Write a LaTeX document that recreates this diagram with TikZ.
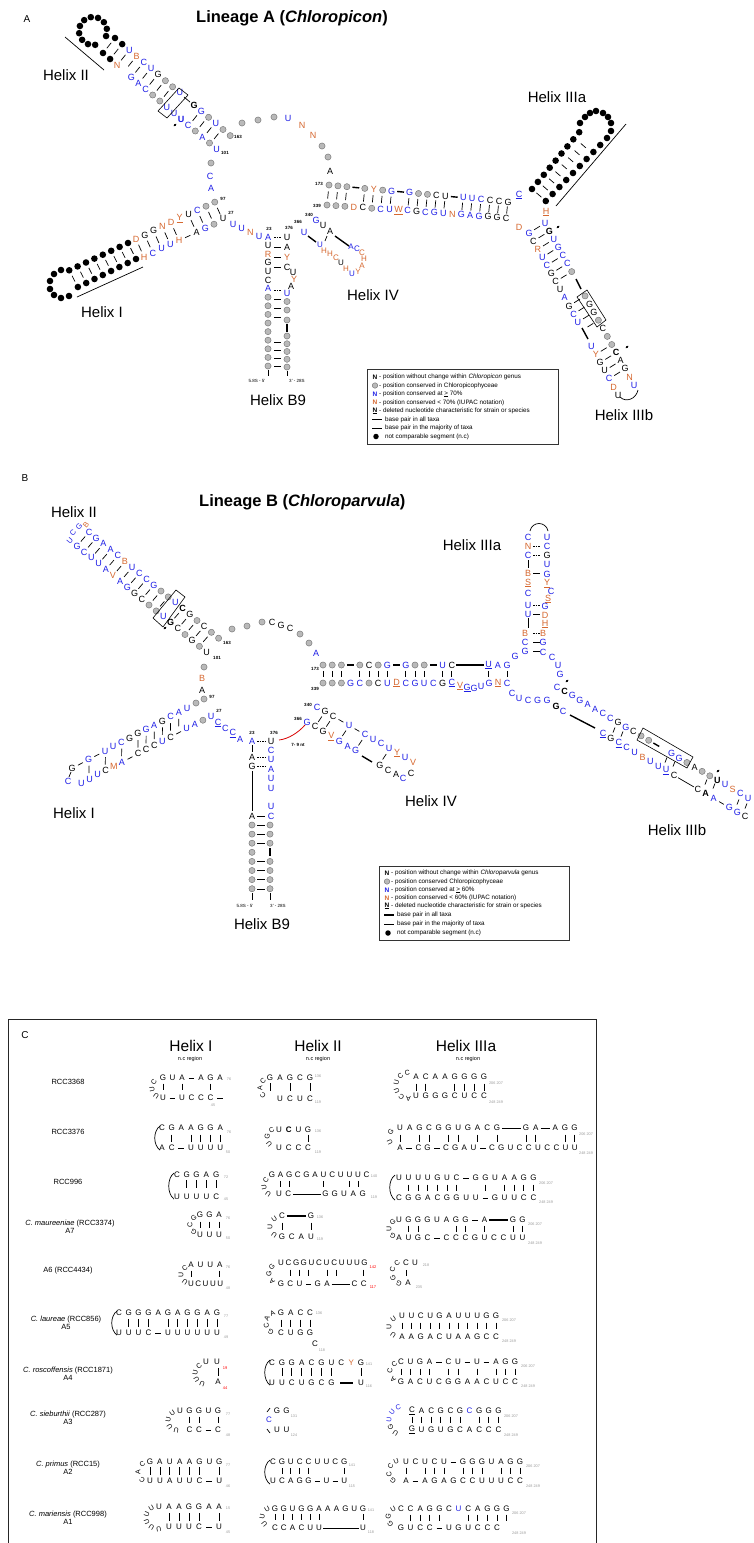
\documentclass[tikz,border=0pt]{standalone}
\usepackage{fontspec}
\setmainfont{Liberation Sans}
\definecolor{pblue}{RGB}{30,30,230}
\definecolor{porange}{RGB}{214,104,48}
\newcount\cidx
\newif\ifcor \newif\ifcun \newif\ifcbf
\def\cbaserot{0}
\def\cmode{0}
\def\cfont{\fontsize{9}{9}\selectfont}
\newcommand\cseq[5]{\def\cmode{0}\def\cx{#1}\def\cy{#2}\def\cdx{#3}\def\cdy{#4}\cstart#5\relax}
\newcommand\cloop[6]{\begingroup\def\cfont{\fontsize{7}{7}\selectfont}\def\cmode{1}\def\cx{#1}\def\cy{#2}\def\crad{#3}\def\ca{#4}\def\cda{#5}\cstart#6\relax\endgroup}
\def\cstart{\global\cidx=0 \corfalse\cunfalse\cbffalse\cparse}
\def\cparse#1{\ifx#1\relax\else\citem#1\expandafter\cparse\fi}
\def\citem#1{%
  \if#1!\cortrue\else
  \if#1+\cuntrue\else
  \if#1*\cbftrue\else
    \cput#1\global\advance\cidx by 1\relax
    \corfalse\cunfalse\cbffalse
  \fi\fi\fi}
\def\cpos{\ifnum\cmode=0
    \pgfmathsetmacro\px{\cx+\the\cidx*(\cdx)}%
    \pgfmathsetmacro\py{\cy+\the\cidx*(\cdy)}%
    \let\crot\cbaserot
  \else
    \pgfmathsetmacro\cang{\ca+\the\cidx*(\cda)}%
    \pgfmathsetmacro\px{\cx+\crad*cos(\cang)}%
    \pgfmathsetmacro\py{\cy+\crad*sin(\cang)}%
    \pgfmathsetmacro\crot{-\cang-90}%
  \fi}
\def\cbond#1#2{%
  \pgfmathsetmacro\qa{\px-#1*(\cdx)}\pgfmathsetmacro\qb{\py-#1*(\cdy)}%
  \pgfmathsetmacro\qc{\px+#1*(\cdx)}\pgfmathsetmacro\qd{\py+#1*(\cdy)}%
  \draw[#2bond] (\qa,\qb) -- (\qc,\qd);}
\def\cperp{%
  \pgfmathsetmacro\qa{\px+0.36*(\cdy)}\pgfmathsetmacro\qb{\py-0.36*(\cdx)}%
  \pgfmathsetmacro\qc{\px-0.36*(\cdy)}\pgfmathsetmacro\qd{\py+0.36*(\cdx)}%
  \draw[thinbond] (\qa,\qb) -- (\qc,\qd);}
\def\cfmt#1{\ifcbf\bfseries\fi\ifcun\underline{#1}\else#1\fi}
\def\cletter#1{%
  \ifcor\def\ccol{porange}\else\ifnum`#1>96 \def\ccol{pblue}\else\def\ccol{black}\fi\fi
  \node[nt,text=\ccol,rotate=\crot] at (\px,\py) {\cfmt{\uppercase{#1}}};}
\def\cput#1{\cpos
  \if#1.\else
  \if#1-\cbond{0.3}{thin}\else
  \if#1=\cbond{0.38}{thick}\else
  \if#1_\cbond{0.5}{thin}\else
  \if#1:\cbond{0.5}{thick}\else
  \if#1|\cperp\else
  \if#1o\node[gc] at (\px,\py) {};\else
  \if#1@\node[bd] at (\px,\py) {};\else
  \cletter#1\fi\fi\fi\fi\fi\fi\fi\fi}
\newcommand\pbars[7]{\foreach \k in {#7}{\draw[thinbond] ({#1+\k*(#5)+0.32*((#3)-(#1))},{#2+\k*(#6)+0.32*((#4)-(#2))}) -- ({#1+\k*(#5)+0.68*((#3)-(#1))},{#2+\k*(#6)+0.68*((#4)-(#2))});}}
\newcommand\cst[8]{\cseq{#1}{#2}{#5}{0}{#6}\cseq{#1}{#3}{#5}{0}{#7}\cseq{#1}{#4}{#5}{0}{#8}}
\newcommand\paren[3]{\draw[thinbond] (#1+4,#2) .. controls (#1-3,#2+5) and (#1-3,#3-5) .. (#1+4,#3);}
\newcommand\pmk[2]{\fill[rotate around={40:(#1,#2)}] (#1,#2) ellipse (1.8pt and 1.1pt);}
\begin{document}
\begin{tikzpicture}[x=1pt,y=-1pt,
  nt/.style={inner sep=0pt,font=\cfont},
  gc/.style={circle,inner sep=0pt,minimum size=6.2pt,fill=gray!55,draw=gray!85!black,line width=0.4pt},
  bd/.style={circle,inner sep=0pt,minimum size=6.6pt,fill=black},
  thinbond/.style={line width=0.7pt},
  thickbond/.style={line width=1.4pt},
  hlabel/.style={font=\fontsize{15}{16}\selectfont,inner sep=0pt},
  ttl/.style={font=\fontsize{16.5}{18}\selectfont\bfseries,inner sep=0pt,anchor=west},
  num/.style={font=\fontsize{4.5}{5}\selectfont\bfseries,inner sep=0pt},
  numg/.style={font=\fontsize{3.8}{4}\selectfont,text=gray!80,inner sep=0pt},
  numr/.style={font=\fontsize{4}{4}\selectfont,text=red,inner sep=0pt},
  smallt/.style={font=\fontsize{4.5}{5}\selectfont,inner sep=0pt},
  legtxt/.style={font=\fontsize{6.3}{7}\selectfont,anchor=west,inner sep=0pt},
  legsym/.style={font=\fontsize{6.5}{7}\selectfont\bfseries,inner sep=0pt},
  legbox/.style={draw=black!80,line width=0.9pt},
  plabel/.style={font=\fontsize{10}{10}\selectfont,inner sep=0pt},
  chead/.style={font=\fontsize{15.5}{16}\selectfont,inner sep=0pt},
  rowl/.style={font=\fontsize{7.5}{8}\selectfont,inner sep=0pt,align=center}]
\useasboundingbox (0,0) rectangle (753,1543);
\fill[white] (0,0) rectangle (753,1543);

%%%%%%%%%%%%%%%% PANEL A
\node[plabel] (pa) at (27,19) {A};
\node[ttl] (ta) at (196,18) {Lineage A (\textit{Chloropicon})};
% Helix II
\cloop{93}{31}{14}{21}{-30}{@@@@@@@@@@@}
\cseq{115}{38}{7.2}{6.1}{@@u!BcuGoou.*Ggouoo}
\cseq{103}{53}{7.1}{6.0}{@@!N.gacoouu*ucoaou}
\pbars{115}{38}{103}{53}{7.15}{6.05}{0,1,2,3,4,5,6,7,8,12,13,14,15}
\draw[line width=0.6pt] (158,111) -- (167,118) -- (188,95) -- (179,88) -- cycle;
\draw[thinbond] (184,97) -- (190,102);
\pmk{175}{125}
\draw[line width=0.7pt] (65,37) -- (104,70);
\node[hlabel] (h2a) at (66,75) {Helix II};
\node[num] at (238,137) {163};
\node[num] at (225,153) {101};
% junction loop
\cseq{242}{123}{16}{-3}{ooo}
\cseq{288}{118}{0}{0}{u}
\cseq{302}{125}{11}{10}{!N!N}
\cseq{322}{146}{6}{11}{oo}
\cseq{330}{171}{0}{0}{A}
\cseq{211}{163}{0}{0}{o}
\cseq{210}{176}{0}{0}{c}
\cseq{211}{188}{0}{0}{a}
\node[num] at (223,199) {97};
% Helix I
\cseq{136}{239}{8.75}{-4.1}{!DGG!N!D+!YUcoo}
\cseq{128}{243}{-8.4}{3.9}{@@@@@@@@}
\foreach \p in {(61,270),(54,274),(50,281),(50,289),(54,295),(61,298),(69,296)} \node[bd] at \p {};
\cseq{136}{259}{-8.3}{4.0}{@@@@@@@@}
\cseq{144}{257}{8.75}{-4.1}{!Hcuu!H-Ago}
\pbars{136}{239}{144}{257}{8.75}{-4.1}{0,1,2,3,4,6,7,8,9}
\pbars{128}{243}{136}{259}{-8.35}{3.95}{0,...,7}
\cseq{223}{218}{0}{0}{U}
\node[num] at (231,213) {27};
\draw[line width=0.7pt] (77,297) -- (143,267);
\node[hlabel] (h1a) at (102,312) {Helix I};
% Helix B9
\cseq{233}{224}{8.7}{4}{uu!Nu}
\node[num] at (269,229) {23};
\cseq{268}{237}{0}{8.6}{aU!RGUCaooooooooo}
\cseq{287}{237}{0}{10}{UA!YC}
\node[num] at (289,228) {376};
\cseq{293}{272}{0}{0}{U}
\cseq{294}{279}{0}{0}{!Y}
\cseq{291}{286}{0}{0}{A}
\cseq{287}{293}{0}{8.5}{uoo}
\cseq{287}{320}{0}{0}{o}
\draw[thickbond] (287,324) -- (287,332);
\cseq{287}{336}{0}{7.75}{ooooo}
\foreach \yy in {247,257,267,299,308,317,342,350,358,366} \draw[thinbond] (274,\yy) -- (281,\yy);
\foreach \yy in {237,290} \draw[thinbond,dash pattern=on 1.5pt off 1pt] (274,\yy) -- (281,\yy);
\draw[thinbond] (268,370) -- (268,376);
\draw[thinbond] (287,371) -- (287,376);
\node[smallt] at (257,381) {5.8S - 5'};
\node[smallt] at (297,381) {3' - 28S};
\node[hlabel] (hb9a) at (278,400) {Helix B9};
% Helix IV
\node[num] at (309,215) {340};
\cseq{316}{220}{7}{5.5}{gUA}
\draw[thickbond] (335,236) -- (349,246);
\node[num] at (298,222) {366};
\cseq{304}{232}{0}{0}{u}
\draw[thickbond] (308,236) -- (316,242);
\draw[thinbond] (327,236) -- (325,241);
\def\cfont{\fontsize{8}{8}\selectfont}
\cseq{320}{245}{0}{0}{u}
\cseq{324}{251}{0}{0}{!H}
\cseq{330}{254}{0}{0}{!H}
\cseq{336}{258}{0}{0}{!C}
\cseq{341}{263}{0}{0}{U}
\cseq{346}{269}{0}{0}{!H}
\cseq{352}{274}{0}{0}{u}
\cseq{358}{272}{0}{0}{!Y}
\cseq{362}{266}{0}{0}{!A}
\cseq{364}{259}{0}{0}{!H}
\cseq{362}{253}{0}{0}{!C}
\cseq{357}{249}{0}{0}{c}
\cseq{351}{247}{0}{0}{a}
\def\cfont{\fontsize{9}{9}\selectfont}
\node[hlabel] (h4a) at (373,295) {Helix IV};
% long helix 173-339
\node[num] at (319,184) {173};
\cseq{329}{185}{8.95}{0.85}{ooo=o!Yog=gooCU=uucCCG}
\cseq{519}{195}{0}{0}{+c}
\node[num] at (317,206) {339};
\cseq{327}{205}{8.95}{0.65}{ooo!DCocu+!WcGcgu!NgagGGC}
\cseq{519}{227}{0}{0}{!D}
\pbars{329}{185}{327}{205}{8.95}{0.75}{0,1,2,4,5,6,7,9,10,11,12,13,15,16,17,18,19,20}
% Helix IIIa
\cseq{532}{189}{5.9}{-7.1}{@@@@@@@@@}
\foreach \p in {(580,123),(585,117),(590,113),(596,111),(603,113),(608,117),(611,123),(611,131)} \node[bd] at \p {};
\cseq{607}{138}{-6.8}{7.0}{@@@@@@@@@@}
\pbars{532}{189}{545.8}{201}{6.35}{-7.05}{0,...,7}
\draw[line width=0.7pt] (556,206) -- (626,124);
\cseq{546}{212}{0}{0}{+!H}
\node[hlabel] (h3aa) at (557,97) {Helix IIIa};
% Helix IIIb
\cseq{545}{223}{4.45}{8.1}{u*Gugcco..oGGoCoo*CAG!Nu}
\draw[thickbond] (576,279) -- (581,289);
\cseq{529}{233}{4.45}{8.1}{gC!RucGCUaGcu..u!YGUc!DU}
\draw[thickbond] (582,328) -- (588,339);
\pbars{545}{223}{529}{233}{4.45}{8.1}{0,1,2,3,4,5,6,9,10,11,12,15,16,17,18}
\draw[line width=0.6pt] (577,297) -- (587,290) -- (606,320) -- (597,327) -- cycle;
\draw[line width=0.7pt] (620,397) .. controls (626,403) and (636,399) .. (638,390);
\pmk{558}{227}
\pmk{627}{347}
\node[hlabel] (h3ba) at (624,415) {Helix IIIb};
% legend A
\draw[legbox] (367,369) rectangle (558,444);
\node[legsym] at (375,377) {N};
\node[legtxt] at (379,377) {- position without change within \textit{Chloropicon} genus};
\node[gc,minimum size=5.5pt] at (375,385.5) {};
\node[legtxt] at (379,385.5) {- position conserved in Chloropicophyceae};
\node[legsym,text=pblue] at (375,394) {N};
\node[legtxt] at (379,394) {- position conserved at \underline{>} 70\%};
\node[legsym,text=porange] at (375,402.5) {N};
\node[legtxt] at (379,402.5) {- position conserved < 70\% (IUPAC notation)};
\node[legsym] at (375,411) {\underline{N}};
\node[legtxt] at (379,411) {- deleted nucleotide characteristic for strain or species};
\draw[thickbond] (372,419.5) -- (382,419.5);
\node[legtxt] at (385,419.5) {base pair in all taxa};
\draw[line width=0.8pt] (372,428) -- (382,428);
\node[legtxt] at (385,428) {base pair in the majority of taxa};
\node[bd,minimum size=5.5pt] at (376,436.5) {};
\node[legtxt] at (385,436.5) {not comparable segment (n.c)};

%%%%%%%%%%%%%%%% PANEL B
\node[plabel] (pb) at (25,478) {B};
\node[ttl] (tb) at (199,502) {Lineage B (\textit{Chloroparvula})};
\node[hlabel] (h2b) at (74,512) {Helix II};
% Helix II
\def\cbaserot{50}
\def\cfont{\fontsize{7.5}{8}\selectfont}
\cseq{70}{541}{0}{0}{u}
\cseq{73}{533}{0}{0}{c}
\cseq{79}{527}{0}{0}{g}
\cseq{86}{525}{0}{0}{!B}
\def\cfont{\fontsize{9}{9}\selectfont}
\def\cbaserot{0}
\cseq{77}{546}{7.2}{5.9}{gcuua!VagGCoou*GCoGoU}
\cseq{89}{532}{7.2}{5.9}{cgaac!Buccgoou*CGoCoo}
\pbars{77}{546}{89}{532}{7.2}{5.9}{0,1,2,3,4,5,6,7,8,9,10,11,13,14,15,16,17}
\draw[line width=0.6pt] (153,618) -- (163,627) -- (185,597) -- (176,590) -- cycle;
\pmk{165}{628}
\node[num] at (227,643) {163};
\node[num] at (217,658) {101};
% junction loop
\cseq{232}{629}{15}{-3}{oo}
\cseq{262}{622}{0}{0}{o}
\cseq{272}{622}{9}{3}{CGC}
\cseq{300}{634}{9}{9}{oo}
\cseq{316}{653}{0}{0}{a}
\cseq{204}{667}{0}{0}{o}
\cseq{202}{678}{0}{0}{!B}
\cseq{202}{690}{0}{0}{A}
\cseq{204}{699}{0}{0}{o}
\node[num] at (212,697) {97};
% Helix I
\cseq{196}{703}{0}{0}{o}
\cseq{187}{708}{-8.2}{4.3}{uacGagGGcuu-g-G}
\cseq{211}{716}{-8.1}{4.2}{uoau-CuCCC-a!MCuuu}
\pbars{187}{708}{186.7}{728.6}{-8.15}{4.25}{1,2,3,4,5,6,8,10,12}
\cseq{68}{781}{0}{0}{c}
\draw[thinbond] (71,772) -- (69,777);
\node[num] at (219,711) {27};
\node[hlabel] (h1b) at (74,813) {Helix I};
% Helix B9
\cseq{218}{723}{7.4}{5.4}{+cc+ca}
\node[num] at (252,733) {23};
\cseq{252}{741}{0}{0}{a}
\draw[thinbond] (252,745) -- (252,752);
\cseq{252}{757}{0}{9}{AG}
\draw[thinbond] (252,771) -- (252,811);
\cseq{252}{816}{0}{0}{A}
\cseq{271}{741}{0}{9.4}{Ucuauu.uc}
\node[num] at (274,733) {376};
\cseq{252}{825}{0}{9.1}{oooooooo}
\cseq{270}{825}{0}{9.1}{ooo.oooo}
\draw[thickbond] (270,848) -- (270,856);
\foreach \yy in {816,825,834,843,861,870,879,889} \draw[thinbond] (257,\yy) -- (265,\yy);
\foreach \yy in {741,757,766} \draw[thinbond,dash pattern=on 1.5pt off 1pt] (257,\yy) -- (266,\yy);
\draw[thinbond] (252,893) -- (252,900);
\draw[thinbond] (270,893) -- (270,900);
\node[smallt] at (245,906) {5.8S - 5'};
\node[smallt] at (278,906) {3' - 28S};
\node[hlabel] (hb9b) at (262,924) {Helix B9};
% Helix IV
\node[num] at (308,705) {340};
\cseq{317}{707}{8}{4.6}{cGC-u-cucu+!Yu!V}
\cseq{411}{773}{0}{0}{C}
\cseq{403}{778}{0}{0}{c}
\node[num] at (298,719) {366};
\cseq{307}{722}{8.1}{4.8}{gCG+!Vgag..GCA}
\draw[thickbond] (362,756) -- (372,762);
\pbars{317}{707}{307}{722}{8.05}{4.7}{1,2,4,6,9}
\draw[red!85!black,line width=0.8pt] (279,740) .. controls (288,739) and (298,733) .. (305,725);
\node[num] at (298,745) {7- 9 nt};
\node[hlabel] (h4b) at (431,801) {Helix IV};
% long helix
\node[num] at (315,669) {173};
\cseq{323}{665}{9.2}{0}{ooo=oCog=goo=uC:::+uag}
\node[num] at (315,689) {339};
\cseq{323}{683}{9.2}{0}{ooogcoCu+!DcgucG+c}
\cseq{460}{686}{0}{0}{+!V}
\cseq{467}{688}{0}{0}{+g}
\cseq{474}{688}{0}{0}{g}
\cseq{481}{686}{0}{0}{u}
\cseq{489}{683}{9}{0}{g+!Nc}
\pbars{323}{665}{323}{683}{9.2}{0}{0,1,2,4,5,6,7,9,10,11,13,14,18,20}
% junction right
\cseq{515}{656}{0}{0}{g}
\cseq{512}{693}{0}{0}{c}
\cseq{519}{698}{0}{0}{u}
\cseq{528}{700}{9.5}{0}{cgg}
\cseq{556}{706}{0}{0}{*G}
\cseq{563}{711}{0}{0}{c}
% Helix IIIa
\cseq{528}{537}{0}{9}{c!Nc}
\draw[thinbond] (528,560) -- (528,568);
\cseq{528}{573}{0}{10}{!B+!Sc}
\cseq{528}{605}{0}{9}{uu}
\draw[thinbond] (528,618) -- (528,628);
\cseq{525}{633}{0}{9}{!Bcg}
\cseq{547}{537}{0}{9.3}{ucGug+!Y}
\cseq{551}{591}{0}{0}{c}
\cseq{548}{599}{0}{0}{+!S}
\cseq{545}{606}{0}{9}{g!D+!H}
\cseq{543}{633}{0}{9.5}{!Bgc}
\cseq{552}{657}{0}{0}{c}
\cseq{558}{665}{0}{0}{u}
\cseq{560}{674}{0}{0}{g}
\foreach \yy in {573,614,642,651} \draw[thinbond] (533,\yy) -- (540,\yy);
\foreach \yy in {546,555,605,633} \draw[thinbond,dash pattern=on 1.5pt off 1pt] (533,\yy) -- (540,\yy);
\draw[line width=0.7pt] (530,531) .. controls (532,521) and (546,521) .. (548,531);
\node[hlabel] (h3ab) at (472,545) {Helix IIIa};
% Helix IIIb
\cseq{557}{687}{7.64}{4.44}{c*CggaaccGgCoo=.ggoAoo*Uu!Scu}
\draw[thickbond] (570,715) -- (595,728);
\cseq{603}{734}{7.9}{4.6}{+cG+ccu!Buu+uC__C*Aa-ggC}
\draw[line width=0.6pt] (637,740) -- (643,728) -- (693,757) -- (687,768) -- cycle;
\foreach \xx/\yy in {614/730,622/734,666/760,674/764,706/782,714/786,738/802,746/806} \draw[thinbond] (\xx+1,\yy-2.5) -- (\xx-1,\yy+2.5);
\pmk{567}{681}
\pmk{718}{771}
\node[hlabel] (h3bb) at (677,830) {Helix IIIb};
% legend B
\draw[legbox] (379,866) rectangle (569,940);
\node[legsym] at (387,873) {N};
\node[legtxt] at (391,873) {- position without change within \textit{Chloroparvula} genus};
\node[gc,minimum size=5.5pt] at (387,881.5) {};
\node[legtxt] at (391,881.5) {- position conserved Chloropicophyceae};
\node[legsym,text=pblue] at (387,890) {N};
\node[legtxt] at (391,890) {- position conserved at \underline{>} 60\%};
\node[legsym,text=porange] at (387,898) {N};
\node[legtxt] at (391,898) {- position conserved < 60\% (IUPAC notation)};
\node[legsym] at (387,906) {\underline{N}};
\node[legtxt] at (391,906) {- deleted nucleotide characteristic for strain or species};
\draw[thickbond] (384,915) -- (394,915);
\node[legtxt] at (397,915) {base pair in all taxa};
\draw[line width=0.8pt] (384,924) -- (394,924);
\node[legtxt] at (397,924) {base pair in the majority of taxa};
\node[bd,minimum size=5.5pt] at (388,933) {};
\node[legtxt] at (397,933) {not comparable segment (n.c)};

%%%%%%%%%%%%%%%% PANEL C
\draw[line width=0.9pt,draw=black!85] (8,1545) -- (8,1019) -- (596,1019) -- (596,1545);
\node[plabel] (pc) at (25,1035) {C};
\node[chead] (c1) at (191,1046) {Helix I};
\node[chead] (c2) at (318,1046) {Helix II};
\node[chead] (c3) at (466,1046) {Helix IIIa};
\node[smallt,font=\fontsize{5.5}{6}\selectfont] at (190,1059) {n.c region};
\node[smallt,font=\fontsize{5.5}{6}\selectfont] at (318,1059) {n.c region};
\node[smallt,font=\fontsize{5.5}{6}\selectfont] at (468,1059) {n.c region};
\node[rowl] at (68,1082) {RCC3368};
\node[rowl] at (68,1132) {RCC3376};
\node[rowl] at (68,1182) {RCC996};
\node[rowl] at (70,1227) {\textit{C. maureeniae} (RCC3374)\\A7};
\node[rowl] at (68,1271) {A6 (RCC4434)};
\node[rowl] at (66,1323) {\textit{C. laureae} (RCC856)\\A5};
\node[rowl] at (68,1374) {\textit{C. roscoffensis} (RCC1871)\\A4};
\node[rowl] at (68,1418) {\textit{C. sieburthii} (RCC287)\\A3};
\node[rowl] at (68,1468) {\textit{C. primus} (RCC15)\\A2};
\node[rowl] at (68,1518) {\textit{C. mariensis} (RCC998)\\A1};
\def\cfont{\fontsize{8}{8}\selectfont}
% row 1
\cst{163}{1078}{1087}{1098}{9.5}{GUA-AGA}{|.|..|.}{U-UCCC-}
\cloop{162}{1088}{10}{215}{-45}{CUU}
\cst{270}{1078}{1087}{1099}{10}{GAGCG}{|.|.|}{.UCUC}
\cloop{270}{1088}{10}{225}{-45}{CAC}
\cst{416}{1077}{1087}{1096}{9.7}{ACAAGGGG}{||..||||}{UGGGCUCC}
\cloop{409}{1086}{13}{262}{-34}{CCUUCA}
\node[numg] at (229,1079) {76}; \node[numg] at (213,1105) {45};
\node[numg] at (318,1076) {136}; \node[numg] at (318,1102) {119};
\node[numg] at (496,1083) {206 207}; \node[numg] at (496,1102) {248 249};
% row 2
\paren{156}{1126}{1150}
\cst{162}{1128}{1138}{1148}{9.7}{CGAAGGA}{.|.||||}{AC-UUUU}
\cst{279}{1130}{1138}{1148}{9.7}{U*CUG}{...|}{UCCC}
\cloop{276}{1138}{9}{240}{-50}{CGU}
\cseq{400}{1128}{9.7}{0}{UAGCGGUGACG__GA_AGG}
\cseq{400}{1138}{9.7}{0}{|.||.||.|.|..||..||}
\cseq{400}{1148}{9.2}{0}{A-CG-CGAU-CGUCCUCCUU}
\cloop{399}{1138}{10}{215}{-60}{GU}
\node[numg] at (229,1132) {76}; \node[numg] at (228,1152) {50};
\node[numg] at (318,1131) {136}; \node[numg] at (318,1152) {119};
\node[numg] at (586,1134) {206 207}; \node[numg] at (586,1153) {248 249};
% row 3
\paren{170}{1173}{1199}
\cst{177}{1175}{1184}{1197}{9.8}{CGGAG}{.||||}{UUUUC}
\cseq{272}{1175}{8.6}{0}{GAGCGAUCUUUC}
\cseq{272}{1184}{8.6}{0}{.||...|..||.}
\cseq{279}{1194}{9.3}{0}{UC___GGUAG}
\cloop{274}{1186}{10}{215}{-45}{CUU}
\paren{391}{1175}{1200}
\cst{399}{1178}{1188}{1198}{9.6}{UUUUGUC-GGUAAGG}{.||||||..|.||||}{CGGACGGUU-GUUCC}
\node[numg] at (226,1177) {72}; \node[numg] at (226,1199) {45};
\node[numg] at (374,1176) {140}; \node[numg] at (374,1197) {119};
\node[numg] at (546,1183) {206 207}; \node[numg] at (546,1202) {248 249};
% row 4
\cst{200}{1215}{1225}{1235}{9.5}{GGA}{|||}{UUU}
\cloop{199}{1225}{9}{235}{-55}{GCG}
\cst{282}{1216}{1226}{1237}{9.7}{C::G}{|..|}{GCAU}
\cloop{280}{1227}{10}{235}{-55}{UUU}
\cst{399}{1220}{1229}{1238}{9.5}{UGGGUAGG-A::GG}{.||...||.|..||}{AUGC-CCCGUCCUU}
\cloop{398}{1229}{9}{235}{-55}{GUG}
\node[numg] at (228,1218) {76}; \node[numg] at (228,1238) {50};
\node[numg] at (320,1217) {136}; \node[numg] at (320,1239) {119};
\node[numg] at (535,1224) {206 207}; \node[numg] at (535,1243) {248 249};
% row 5
\cseq{191}{1265}{9.6}{0}{AUUA}
\cseq{191}{1274}{9.6}{0}{|..|}
\cseq{191}{1284}{7.3}{0}{UCUUU}
\cloop{190}{1275}{9}{235}{-55}{CUU}
\cseq{281}{1263}{7.6}{0}{UCGGUCUCUUUG}
\cseq{281}{1273}{9.2}{0}{.|||.||..|}
\cseq{281}{1284}{9.2}{0}{GCU-GA__CC}
\cloop{279}{1274}{10}{225}{-45}{GGA}
\node[numr] at (373,1267) {142}; \node[numr] at (373,1287) {117};
\cseq{406}{1263}{9}{0}{CU}
\cseq{406}{1273}{9}{0}{|}
\cseq{408}{1283}{0}{0}{A}
\cloop{404}{1273}{12}{235}{-40}{CCGG}
\node[numg] at (228,1267) {76}; \node[numg] at (228,1288) {48};
\node[numg] at (426,1265) {218}; \node[numg] at (419,1287) {235};
% row 6
\paren{113}{1311}{1335}
\cst{119}{1313}{1323}{1333}{9.8}{CGGGAGAGGAG}{.|||.||||||}{UUUC-UUUUUU}
\cst{281}{1313}{1323}{1333}{9.7}{GACC}{||||}{CUGG}
\cseq{315}{1344}{0}{0}{C}
\cloop{277}{1323}{11}{245}{-40}{AACG}
\cst{402}{1316}{1326}{1337}{9.4}{UUCUGAUUUGG}{|||||||||||}{AAGACUAAGCC}
\cloop{399}{1327}{10}{235}{-55}{UUU}
\node[numg] at (226,1316) {77}; \node[numg] at (226,1337) {49};
\node[numg] at (319,1313) {136}; \node[numg] at (322,1350) {118};
\node[numg] at (509,1320) {206 207}; \node[numg] at (509,1341) {248 249};
% row 7
\cseq{206}{1362}{11}{0}{UU}
\cseq{218}{1372}{11}{0}{|}
\cseq{218}{1382}{0}{0}{A}
\cloop{206}{1374}{11}{230}{-40}{CUUU}
\node[numr] at (225,1368) {19}; \node[numr] at (225,1388) {44};
\paren{266}{1360}{1385}
\cst{272}{1363}{1372}{1383}{9.9}{CGGACGUC!YG}{.||||||..|}{UUCUGCG..U}
\draw[thickbond] (340,1383) -- (353,1383);
\cst{401}{1362}{1372}{1382}{9.5}{CUGA-CU-U-AGG}{||||.||.|.|||}{GACUCGGAACUCC}
\cloop{400}{1372}{10}{235}{-50}{CCA}
\node[numg] at (369,1364) {141}; \node[numg] at (369,1386) {116};
\node[numg] at (528,1366) {206 207}; \node[numg] at (528,1386) {248 249};
% row 8
\cst{180}{1411}{1420}{1430}{9.5}{UGGUG}{.||.|}{.CC-C}
\cloop{178}{1421}{10}{235}{-45}{UUUU}
\cseq{277}{1411}{9.5}{0}{GG}
\cseq{269}{1420}{0}{0}{c}
\cseq{277}{1430}{9.5}{0}{UU}
\draw[thinbond] (267,1412) -- (270,1408);
\draw[thinbond] (267,1429) -- (270,1433);
\cst{412}{1411}{1420}{1430}{9.6}{+CACGCGcGGG}{||||||.|||}{+GUGUGCACCC}
\cloop{403}{1421}{14}{250}{-32}{cuuGU}
\node[numg] at (228,1414) {77}; \node[numg] at (228,1435) {48};
\node[numg] at (294,1416) {131}; \node[numg] at (294,1435) {124};
\node[numg] at (511,1416) {206 207}; \node[numg] at (511,1435) {248 249};
% row 9
\cst{150}{1462}{1471}{1481}{9.9}{GAUAAGUG}{||||||.|}{UUAUUC-U}
\cloop{148}{1472}{10}{235}{-55}{CAC}
\paren{266}{1460}{1484}
\cst{273}{1462}{1471}{1481}{8.9}{CGUCCUUCG}{.||||...|}{UCAGG-U-U}
\cst{406}{1462}{1471}{1481}{9.5}{UCUCU-GGGUAGG}{|.|||.|||.|||}{A-AGAGCCUUUCC}
\cloop{400}{1472}{11}{250}{-40}{UCCG}
\node[numg] at (228,1465) {77}; \node[numg] at (228,1486) {46};
\node[numg] at (352,1465) {141}; \node[numg] at (352,1486) {115};
\node[numg] at (533,1466) {206 207}; \node[numg] at (533,1486) {248 249};
% row 10
\cst{159}{1507}{1517}{1527}{10}{UAAGGAA}{.||||.|}{.UUUC-U}
\cloop{157}{1518}{11}{240}{-40}{UUUUU}
\cst{275}{1509}{1517}{1528}{8.8}{GGUGGAAAGUG}{||||||....|}{CCACUU____U}
\cloop{272}{1518}{10}{240}{-50}{UUU}
\cst{401}{1509}{1518}{1528}{9.6}{CCAGGCuCAGGG}{.||||..|||||}{GUCC-UGUCCC}
\cloop{398}{1518}{10}{240}{-50}{UGG}
\node[numg] at (228,1508) {15}; \node[numg] at (228,1532) {45};
\node[numg] at (371,1510) {141}; \node[numg] at (371,1532) {118};
\node[numg] at (519,1513) {206 207}; \node[numg] at (519,1533) {248 249};
\end{tikzpicture}
\end{document}
